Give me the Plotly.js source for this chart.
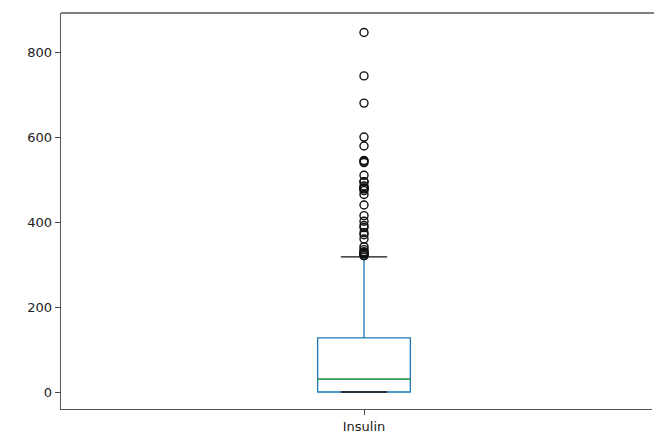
<!DOCTYPE html>
<html>
<head>
<meta charset="utf-8">
<script src="https://cdn.plot.ly/plotly-3.0.1.min.js"></script>
<style>
html,body{margin:0;padding:0;overflow:hidden;background:#fff;width:654px;height:440px;}
#chart{width:654px;height:440px;}
</style>
</head>
<body>
<div id="chart"></div>
<script>
var categories = ["Insulin"];
var q1 = [0];
var median = [30.5];
var q3 = [127.25];
var lowerWhisker = [0];
var upperWhisker = [318];
var outliers = [321, 321, 325, 326, 328, 330, 335, 342, 360, 370, 375, 387, 392, 402, 415, 440, 465, 474, 478, 480, 480, 485, 495, 495, 510, 540, 543, 545, 579, 600, 680, 744, 846];
var yTicks = [0, 200, 400, 600, 800];

var pos = 1;
var boxW = 0.153;
var capHalf = boxW / 4;
var plotPx = 606;      // full (cropped) plot width in px
var visiblePx = 591;   // visible part inside the 654px page

var traces = [
  {
    type: 'box', x: [pos], q1: q1, median: median, q3: q3,
    lowerfence: lowerWhisker, upperfence: upperWhisker,
    width: boxW, whiskerwidth: 0, boxpoints: false,
    fillcolor: 'rgba(0,0,0,0)', line: {color: '#1f77b4', width: 1.3},
    hoverinfo: 'skip', showlegend: false
  },
  {
    type: 'scatter', mode: 'lines', x: [pos - boxW/2, pos + boxW/2], y: [median[0], median[0]],
    line: {color: '#2ca02c', width: 1.3}, showlegend: false, hoverinfo: 'skip'
  },
  {
    type: 'scatter', mode: 'lines', x: [pos - capHalf, pos + capHalf], y: [upperWhisker[0], upperWhisker[0]],
    line: {color: '#111', width: 1.3}, showlegend: false, hoverinfo: 'skip'
  },
  {
    type: 'scatter', mode: 'lines', x: [pos - capHalf, pos + capHalf], y: [lowerWhisker[0], lowerWhisker[0]],
    line: {color: '#111', width: 1.3}, showlegend: false, hoverinfo: 'skip'
  },
  {
    type: 'scatter', mode: 'markers', x: outliers.map(function(){return pos;}), y: outliers,
    marker: {symbol: 'circle-open', size: 8, color: '#111', line: {width: 1.4, color: '#111'}},
    showlegend: false, hoverinfo: 'skip'
  }
];

var layout = {
  width: 654, height: 440,
  margin: {l: 61, r: 2, t: 13, b: 31},
  paper_bgcolor: '#fff', plot_bgcolor: '#fff',
  font: {family: 'DejaVu Sans, sans-serif', size: 13, color: '#222'},
  showlegend: false,
  shapes: [
    {type: 'line', xref: 'paper', yref: 'paper', x0: 0, x1: 1.01, y0: 1, y1: 1,
     line: {color: '#555', width: 1.3}}
  ],
  xaxis: {
    range: [0.5, 0.5 + visiblePx / plotPx], tickvals: [pos], ticktext: categories,
    ticks: 'outside', ticklen: 5, tickcolor: '#444', tickwidth: 1,
    showgrid: false, zeroline: false, showline: true, linecolor: '#555', linewidth: 1.3, mirror: false,
    tickfont: {size: 13, color: '#222'}
  },
  yaxis: {
    range: [-40, 892], tickvals: yTicks,
    ticks: 'outside', ticklen: 5, tickcolor: '#444', tickwidth: 1,
    showgrid: false, zeroline: false, showline: true, linecolor: '#555', linewidth: 1.3, mirror: false,
    tickfont: {size: 13, color: '#222'}
  }
};

Plotly.newPlot('chart', traces, layout, {displayModeBar: false, staticPlot: true});
</script>
</body>
</html>
